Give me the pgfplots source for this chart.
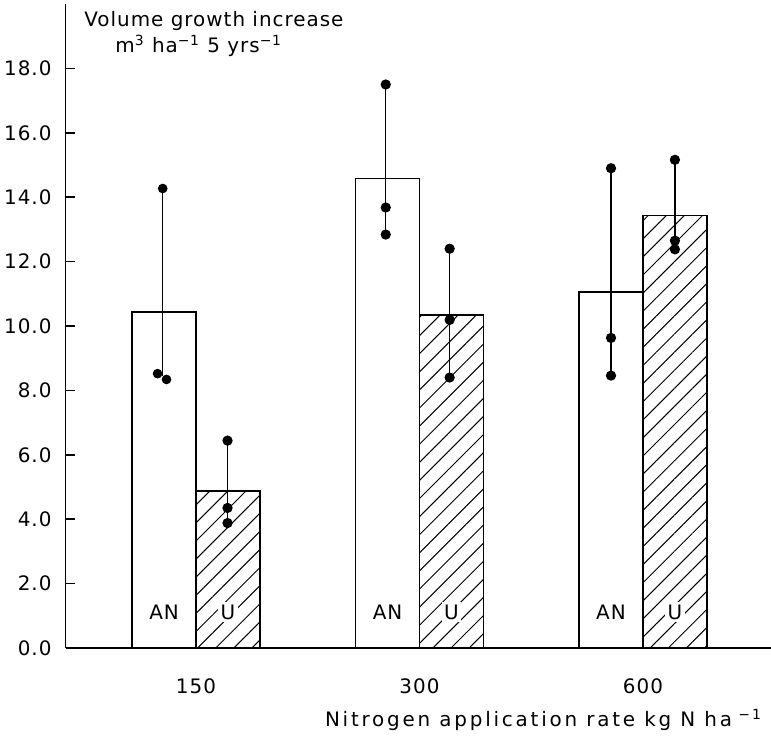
\documentclass[border=0pt]{standalone}
\usepackage{fontspec}
\setmainfont{DejaVu Sans}[LetterSpace=5]
\newfontfamily\widefont{DejaVu Sans}[LetterSpace=14]
\usepackage{pgfplots}
\pgfplotsset{compat=1.18}
\usetikzlibrary{patterns.meta}
\begin{document}
\fontsize{10}{12}\selectfont
\begin{tikzpicture}
\useasboundingbox (0,0) rectangle (385.5bp,368.5bp);
\begin{axis}[
  at={(32.75bp,44.5bp)}, anchor=south west,
  scale only axis, width=352.75bp, height=322bp,
  xmin=0.416, xmax=3.573, ymin=0, ymax=20,
  axis x line=bottom, axis y line=left,
  axis line style={-, line width=0.9pt},
  ytick={0,2,...,18}, tick align=inside, major tick length=4.5bp,
  ytick style={line width=0.8pt, black},
  /pgf/number format/assume math mode=true,
  yticklabel style={/pgf/number format/.cd, fixed, fixed zerofill, precision=1, /tikz/.cd, xshift=-3.5bp},
  xtick={1,2,3}, xticklabels={150,300,600}, xtick style={draw=none},
  xticklabel style={yshift=-12bp},
  xlabel={\widefont Nitrogen application rate kg N ha\textsuperscript{ −1}},
  xlabel style={at={(rel axis cs:1,0)}, anchor=east, yshift=-36bp, xshift=-1bp},
  clip=false,
]
% AN bars
\addplot[ybar, bar width=0.286, bar shift=-0.143, draw=black, fill=white, line width=0.8pt]
  coordinates {(1,10.44) (2,14.58) (3,11.06)};
% U bars
\addplot[ybar, bar width=0.286, bar shift=0.143, draw=black, line width=0.8pt,
  pattern={Lines[angle=45, distance=6.4bp, line width=0.5bp]}]
  coordinates {(1,4.88) (2,10.34) (3,13.43)};
% whiskers
\addplot[black, line width=0.7pt] coordinates {(0.851,14.27) (0.851,8.45)};
\addplot[black, only marks, mark=*, mark size=2.2bp] coordinates {(0.851,14.27) (0.828,8.52) (0.868,8.34)};
\addplot[black, line width=0.7pt, mark=*, mark size=2.2bp] coordinates {(1.141,6.44) (1.141,4.35) (1.141,3.88)};
\addplot[black, line width=0.7pt, mark=*, mark size=2.2bp] coordinates {(1.849,17.50) (1.849,13.68) (1.849,12.84)};
\addplot[black, line width=0.7pt, mark=*, mark size=2.2bp] coordinates {(2.135,12.40) (2.135,10.19) (2.135,8.40)};
\addplot[black, line width=0.7pt, mark=*, mark size=2.2bp] coordinates {(2.857,14.90) (2.857,9.63) (2.857,8.46)};
\addplot[black, line width=0.7pt, mark=*, mark size=2.2bp] coordinates {(3.143,15.16) (3.143,12.65) (3.143,12.38)};
% bar labels
\node at (axis cs:0.857,1.12) {AN};
\node at (axis cs:1.857,1.12) {AN};
\node at (axis cs:2.857,1.12) {AN};
\node[fill=white, inner sep=1.2bp] at (axis cs:1.143,1.12) {U};
\node[fill=white, inner sep=1.2bp] at (axis cs:2.143,1.12) {U};
\node[fill=white, inner sep=1.2bp] at (axis cs:3.143,1.12) {U};
\end{axis}
\node[anchor=base west, inner sep=0] at (42bp,355bp) {Volume growth increase};
\node[anchor=base west, inner sep=0] at (57.5bp,342bp) {m\textsuperscript{3} ha\textsuperscript{−1} 5 yrs\textsuperscript{−1}};
\end{tikzpicture}
\end{document}
